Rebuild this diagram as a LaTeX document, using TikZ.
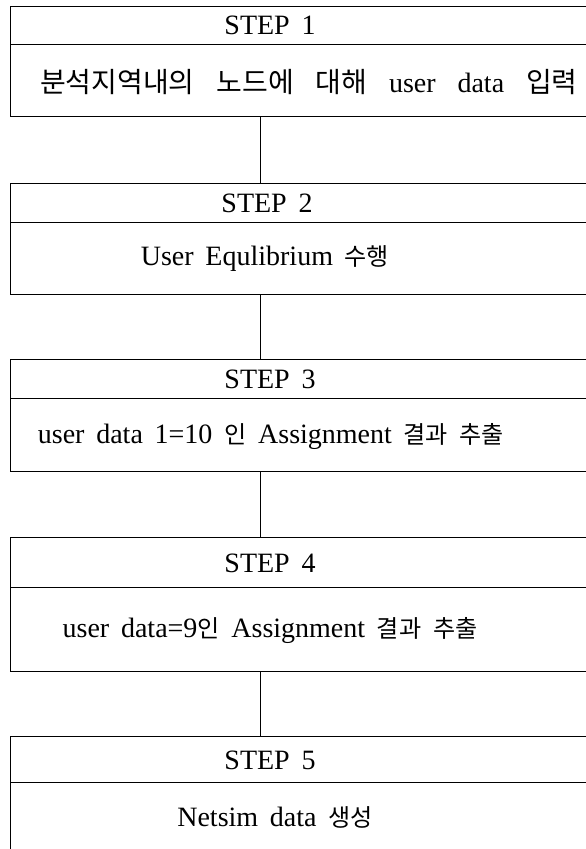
\documentclass[tikz,border=0pt]{standalone}
\usepackage{fontspec}
\setmainfont{Liberation Serif}
\newfontfamily\krfont{Noto Sans CJK KR}[Scale=0.86]
\newfontfamily\krbig{Noto Sans CJK KR}[Scale=1.0]
\newcommand{\K}[1]{{\krfont #1}}
\newcommand{\KB}[1]{{\krbig #1}}
\newcommand{\stepfont}{\fontsize{28}{32}\selectfont\setlength{\spaceskip}{0.42em}}
\newcommand{\widefont}{\fontsize{28}{32}\selectfont\setlength{\spaceskip}{0.78em}}
\begin{document}
\begin{tikzpicture}[x=1pt,y=-1pt,
  frame/.style={draw, line width=0.9pt, rectangle, inner sep=0pt, anchor=north west, minimum width=600pt},
  txt/.style={font=\stepfont, inner sep=0pt},
  widetxt/.style={font=\widefont, inner sep=0pt},
  link/.style={draw, line width=0.9pt}]
\clip (0,0) rectangle (586,849);
\useasboundingbox (0,0) rectangle (586,849);
\coordinate (cx) at (260,0);
% boxes
\node[frame, minimum height=38pt] (h1) at (10,6) {};
\node[frame, minimum height=72pt] (b1) at (10,44) {};
\node[frame, minimum height=39pt] (h2) at (10,183) {};
\node[frame, minimum height=72pt] (b2) at (10,222) {};
\node[frame, minimum height=39pt] (h3) at (10,359) {};
\node[frame, minimum height=73pt] (b3) at (10,398) {};
\node[frame, minimum height=50pt] (h4) at (10,537) {};
\node[frame, minimum height=84pt] (b4) at (10,587) {};
\node[frame, minimum height=46pt] (h5) at (10,736) {};
\node[frame, minimum height=100pt] (b5) at (10,782) {};
% texts
\node[txt] (t1) at (270,25) {STEP 1};
\node[widetxt, anchor=west] (s1) at (40,82) {\KB{분석지역내의} \KB{노드에} \KB{대해} user data \KB{입력}};
\node[txt] (t2) at (267,203) {STEP 2};
\node[txt] (s2) at (265,259) {User Equlibrium \K{수행}};
\node[txt] (t3) at (270,379) {STEP 3};
\node[txt] (s3) at (271,436) {user data 1=10 \K{인} Assignment \K{결과} \K{추출}};
\node[txt] (t4) at (270,563) {STEP 4};
\node[txt] (s4) at (270,630) {user data=9\K{인} Assignment \K{결과} \K{추출}};
\node[txt] (t5) at (270,760) {STEP 5};
\node[txt] (s5) at (275,817) {Netsim data \K{생성}};
% connectors
\path[link] (b1.south -| cx) -- (h2.north -| cx);
\path[link] (b2.south -| cx) -- (h3.north -| cx);
\path[link] (b3.south -| cx) -- (h4.north -| cx);
\path[link] (b4.south -| cx) -- (h5.north -| cx);
\end{tikzpicture}
\end{document}
